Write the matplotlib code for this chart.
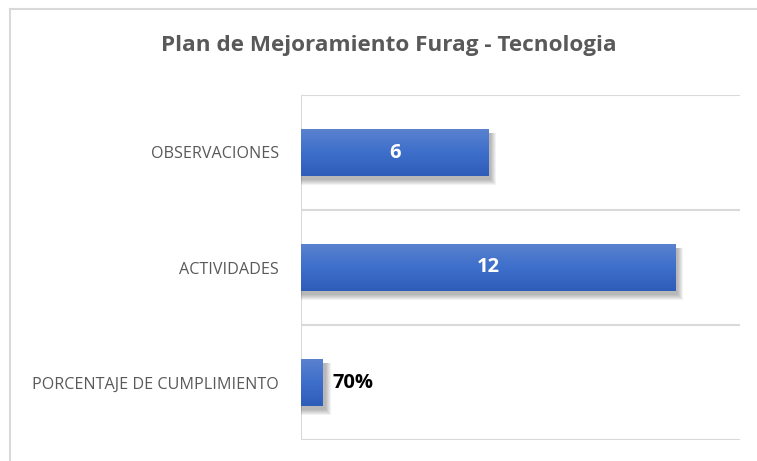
import numpy as np
import matplotlib
matplotlib.use("Agg")
import matplotlib.pyplot as plt
from matplotlib.patches import Rectangle
from matplotlib.colors import LinearSegmentedColormap

# Data
categories = ["PORCENTAJE DE CUMPLIMIENTO", "ACTIVIDADES", "OBSERVACIONES"]
values = [0.7, 12, 6]
labels = ["70%", "12", "6"]
title = "Plan de Mejoramiento Furag - Tecnologia"

W, H = 757, 461
fig = plt.figure(figsize=(W / 100, H / 100), dpi=100)
fig.patch.set_facecolor("white")

# outer chart border (only top/left visible in the crop)
fig.add_artist(plt.Line2D([10 / W, 10 / W], [0, 1 - 9 / H], transform=fig.transFigure,
                          color="#D9D9D9", lw=1.5))
fig.add_artist(plt.Line2D([10 / W, 1], [1 - 9 / H, 1 - 9 / H], transform=fig.transFigure,
                          color="#D9D9D9", lw=1.5))

ax = fig.add_axes([301 / W, 21 / H, 439 / W, 345 / H])
xmax = 14.07
ax.set_xlim(0, xmax)
ax.set_ylim(-0.5, 2.5)
for s in ax.spines.values():
    s.set_visible(False)
ax.set_xticks([])
ax.set_yticks(range(len(categories)))
ax.set_yticklabels(categories, color="#595959", fontsize=11.6, family="Open Sans")
ax.tick_params(axis="y", length=0, pad=16)

# gridlines at category boundaries
for yb in [-0.5, 0.5, 1.5, 2.5]:
    ax.axhline(yb, color="#D9D9D9", lw=1.5, zorder=0)
ax.axvline(0, color="#D9D9D9", lw=1.5, zorder=0)

px = xmax / 439   # data units per pixel, x
py = 3 / 345      # data units per pixel, y

cmap = LinearSegmentedColormap.from_list("bar", ["#2E5DB9", "#3E6FCB", "#5B82CF"])
grad = np.linspace(0, 1, 100).reshape(-1, 1)
bh = 0.41
for i, v in enumerate(values):
    # soft shadow, offset right/down
    for r in range(1, 7):
        ax.add_patch(Rectangle((0, i - bh / 2 - (3 + r) * py),
                               v + (2 + r) * px, bh + (2 * r - 2) * py * 0.5,
                               facecolor="black", alpha=0.05, lw=0, zorder=1))
    rect = ax.barh(i, v, height=bh, color="#3E6FCB", zorder=2)[0]
    im = ax.imshow(grad, cmap=cmap, aspect="auto", origin="lower",
                   extent=(0, v, i - bh / 2, i + bh / 2), zorder=3)
    im.set_clip_path(rect)

ax.set_xlim(0, xmax)
ax.set_ylim(-0.5, 2.5)

for i, (v, lab) in enumerate(zip(values, labels)):
    if v > 2:
        ax.text(v / 2, i, lab, ha="center", va="center", color="white",
                fontsize=14.5, fontweight="bold", family="Open Sans", zorder=4)
    else:
        ax.text(v + 0.32, i, lab, ha="left", va="center", color="black",
                fontsize=14.5, fontweight="bold", family="Open Sans", zorder=4)

fig.text(389 / W, 1 - 46 / H, title, ha="center", va="center", color="#595959",
         fontsize=16.2, fontweight="bold", family="Open Sans")

fig.savefig("out.png", dpi=100)
